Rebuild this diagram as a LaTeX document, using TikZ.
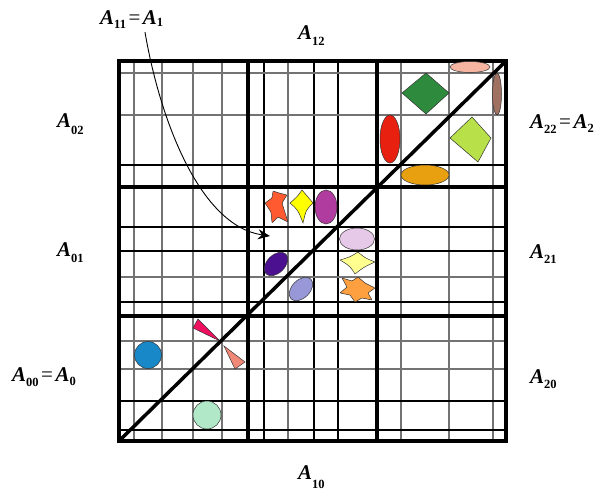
\documentclass[tikz,border=0pt]{standalone}
\usepackage{fontspec}
\setmainfont{Liberation Serif}
\usetikzlibrary{arrows.meta}
\definecolor{cPeach}{HTML}{F5B5A0}
\definecolor{cBrown}{HTML}{A07060}
\definecolor{cGreen}{HTML}{2E8B3E}
\definecolor{cRed}{HTML}{E82010}
\definecolor{cYGreen}{HTML}{B8E048}
\definecolor{cGold}{HTML}{E8A010}
\definecolor{cTomato}{HTML}{FF5A30}
\definecolor{cYellow}{HTML}{FFFF00}
\definecolor{cMagenta}{HTML}{B03CA0}
\definecolor{cLavender}{HTML}{E6C8E8}
\definecolor{cIndigo}{HTML}{4A1090}
\definecolor{cLYellow}{HTML}{FFFF90}
\definecolor{cPeri}{HTML}{9898D8}
\definecolor{cOrange}{HTML}{FFA040}
\definecolor{cBlue}{HTML}{1888C8}
\definecolor{cPaleGreen}{HTML}{B0E8C8}
\definecolor{cPink}{HTML}{F01060}
\definecolor{cSalmon}{HTML}{F08878}
\newcommand{\Asub}[2][5pt]{\textbf{\textit{A}}\raisebox{-#1}{\fontsize{12.5}{13}\selectfont\bfseries #2}}
\newcommand{\Aeq}{\hspace{2.5pt}=\hspace{2.5pt}}
\begin{document}
\begin{tikzpicture}[x=1pt,y=-1pt,
  lab/.style={inner sep=0pt,anchor=base west,font=\fontsize{21}{24}\selectfont},
  thinblack/.style={line width=1.1pt,black},
  thingray/.style={line width=1.1pt,black!55},
  thickline/.style={line width=3.2pt,black},
  shp/.style={draw=black!80,line width=0.5pt}]
\useasboundingbox (0,0) rectangle (611,498);
% thin grid lines
\foreach \x in {134,162,193,222,288,401,449,493} \draw[thingray] (\x,61) -- (\x,441);
\foreach \x in {264,314,338} \draw[thinblack] (\x,61) -- (\x,441);
\foreach \y in {73,115,277,341,369} \draw[thingray] (119,\y) -- (506,\y);
\foreach \y in {165,227,251,302,401,430} \draw[thinblack] (119,\y) -- (506,\y);
% thick block lines
\foreach \x in {248,377} \draw[thickline] (\x,61) -- (\x,441);
\foreach \y in {187,316} \draw[thickline] (119,\y) -- (506,\y);
\draw[line width=3.8pt] (119,61) rectangle (506,441);
% top-right block shapes
\draw[shp,fill=cPeach] (470,67) ellipse [x radius=20pt,y radius=5.5pt];
\draw[shp,fill=cBrown] (497,94) ellipse [x radius=4.5pt,y radius=21pt];
\draw[shp,fill=cGreen] (426,73) -- (449,93) -- (426,114) -- (402,93) -- cycle;
\draw[shp,fill=cRed] (390,139) ellipse [x radius=10pt,y radius=24pt];
\draw[shp,fill=cYGreen] (472,117) -- (491,138) -- (478,162) -- (450,138) -- cycle;
\draw[shp,fill=cGold] (425,175) ellipse [x radius=24pt,y radius=10pt];
% middle block shapes
\draw[shp,fill=cTomato,rounded corners=0.8pt] (273,191) -- (279,193) -- (287,195) -- (282,203) -- (288,222) -- (278,217) -- (272,223) -- (271,212) -- (265,203) -- (272,198) -- cycle;
\draw[shp,fill=cYellow] (302,190) .. controls (307,197) .. (313,203) .. controls (306,210) .. (303,223) .. controls (298,210) .. (290,203) .. controls (297,197) .. (302,190) -- cycle;
\draw[shp,fill=cMagenta] (326,207) ellipse [x radius=11pt,y radius=17pt];
\draw[shp,fill=cLavender] (357,239) ellipse [x radius=17.5pt,y radius=11pt];
\draw[shp,fill=cIndigo] (276,264) ellipse [x radius=14pt,y radius=9pt,rotate=45];
\draw[shp,fill=cLYellow] (358,252) .. controls (365,258) .. (375,262) .. controls (364,267) .. (355,274) .. controls (350,266) .. (340,260) .. controls (350,257) .. (358,252) -- cycle;
\draw[shp,fill=cPeri] (301,289) ellipse [x radius=14pt,y radius=9pt,rotate=45];
\draw[shp,fill=cOrange,rounded corners=0.6pt] (342,278) -- (352,281) -- (358,277) -- (365,283) -- (375,288) -- (368,293) -- (372,300) -- (362,298) -- (355,302) -- (350,295) -- (340,293) -- (347,287) -- cycle;
% bottom-left block shapes
\draw[shp,fill=cBlue] (148,355) circle [radius=13.5pt];
\draw[shp,fill=cPaleGreen] (207,415) circle [radius=14pt];
\draw[shp,fill=cPink] (198,319) -- (220,341) -- (193,328) -- cycle;
\draw[shp,fill=cSalmon] (224,346) -- (245,362) -- (235,369) -- cycle;
% diagonal
\draw[line width=3.5pt] (119,441) -- (506,61);
% labels
\node[lab] (a11) at (100,24) {\Asub[4pt]{11}\Aeq\Asub[2pt]{1}};
\node[lab] (a12) at (298,39) {\Asub[6pt]{12}};
\node[lab] (a02) at (57,127) {\Asub[7pt]{02}};
\node[lab] (a01) at (57,256) {\Asub[6pt]{01}};
\node[lab] (a00) at (12,381) {\Asub[5pt]{00}\Aeq\Asub[4pt]{0}};
\node[lab] (a22) at (530,128) {\Asub[5pt]{22}\Aeq\Asub[4pt]{2}};
\node[lab] (a21) at (530,258) {\Asub[5pt]{21}};
\node[lab] (a20) at (530,383) {\Asub[5pt]{20}};
\node[lab] (a10) at (298,479) {\Asub[9pt]{10}};
% arrow
\coordinate (tipA) at (270,236);
\draw[line width=0.9pt,-{Stealth[length=12pt,width=10pt]}] ([yshift=-4pt]a11.south -| 145,0) .. controls (160,120) and (200,226) .. (tipA);
\end{tikzpicture}
\end{document}
